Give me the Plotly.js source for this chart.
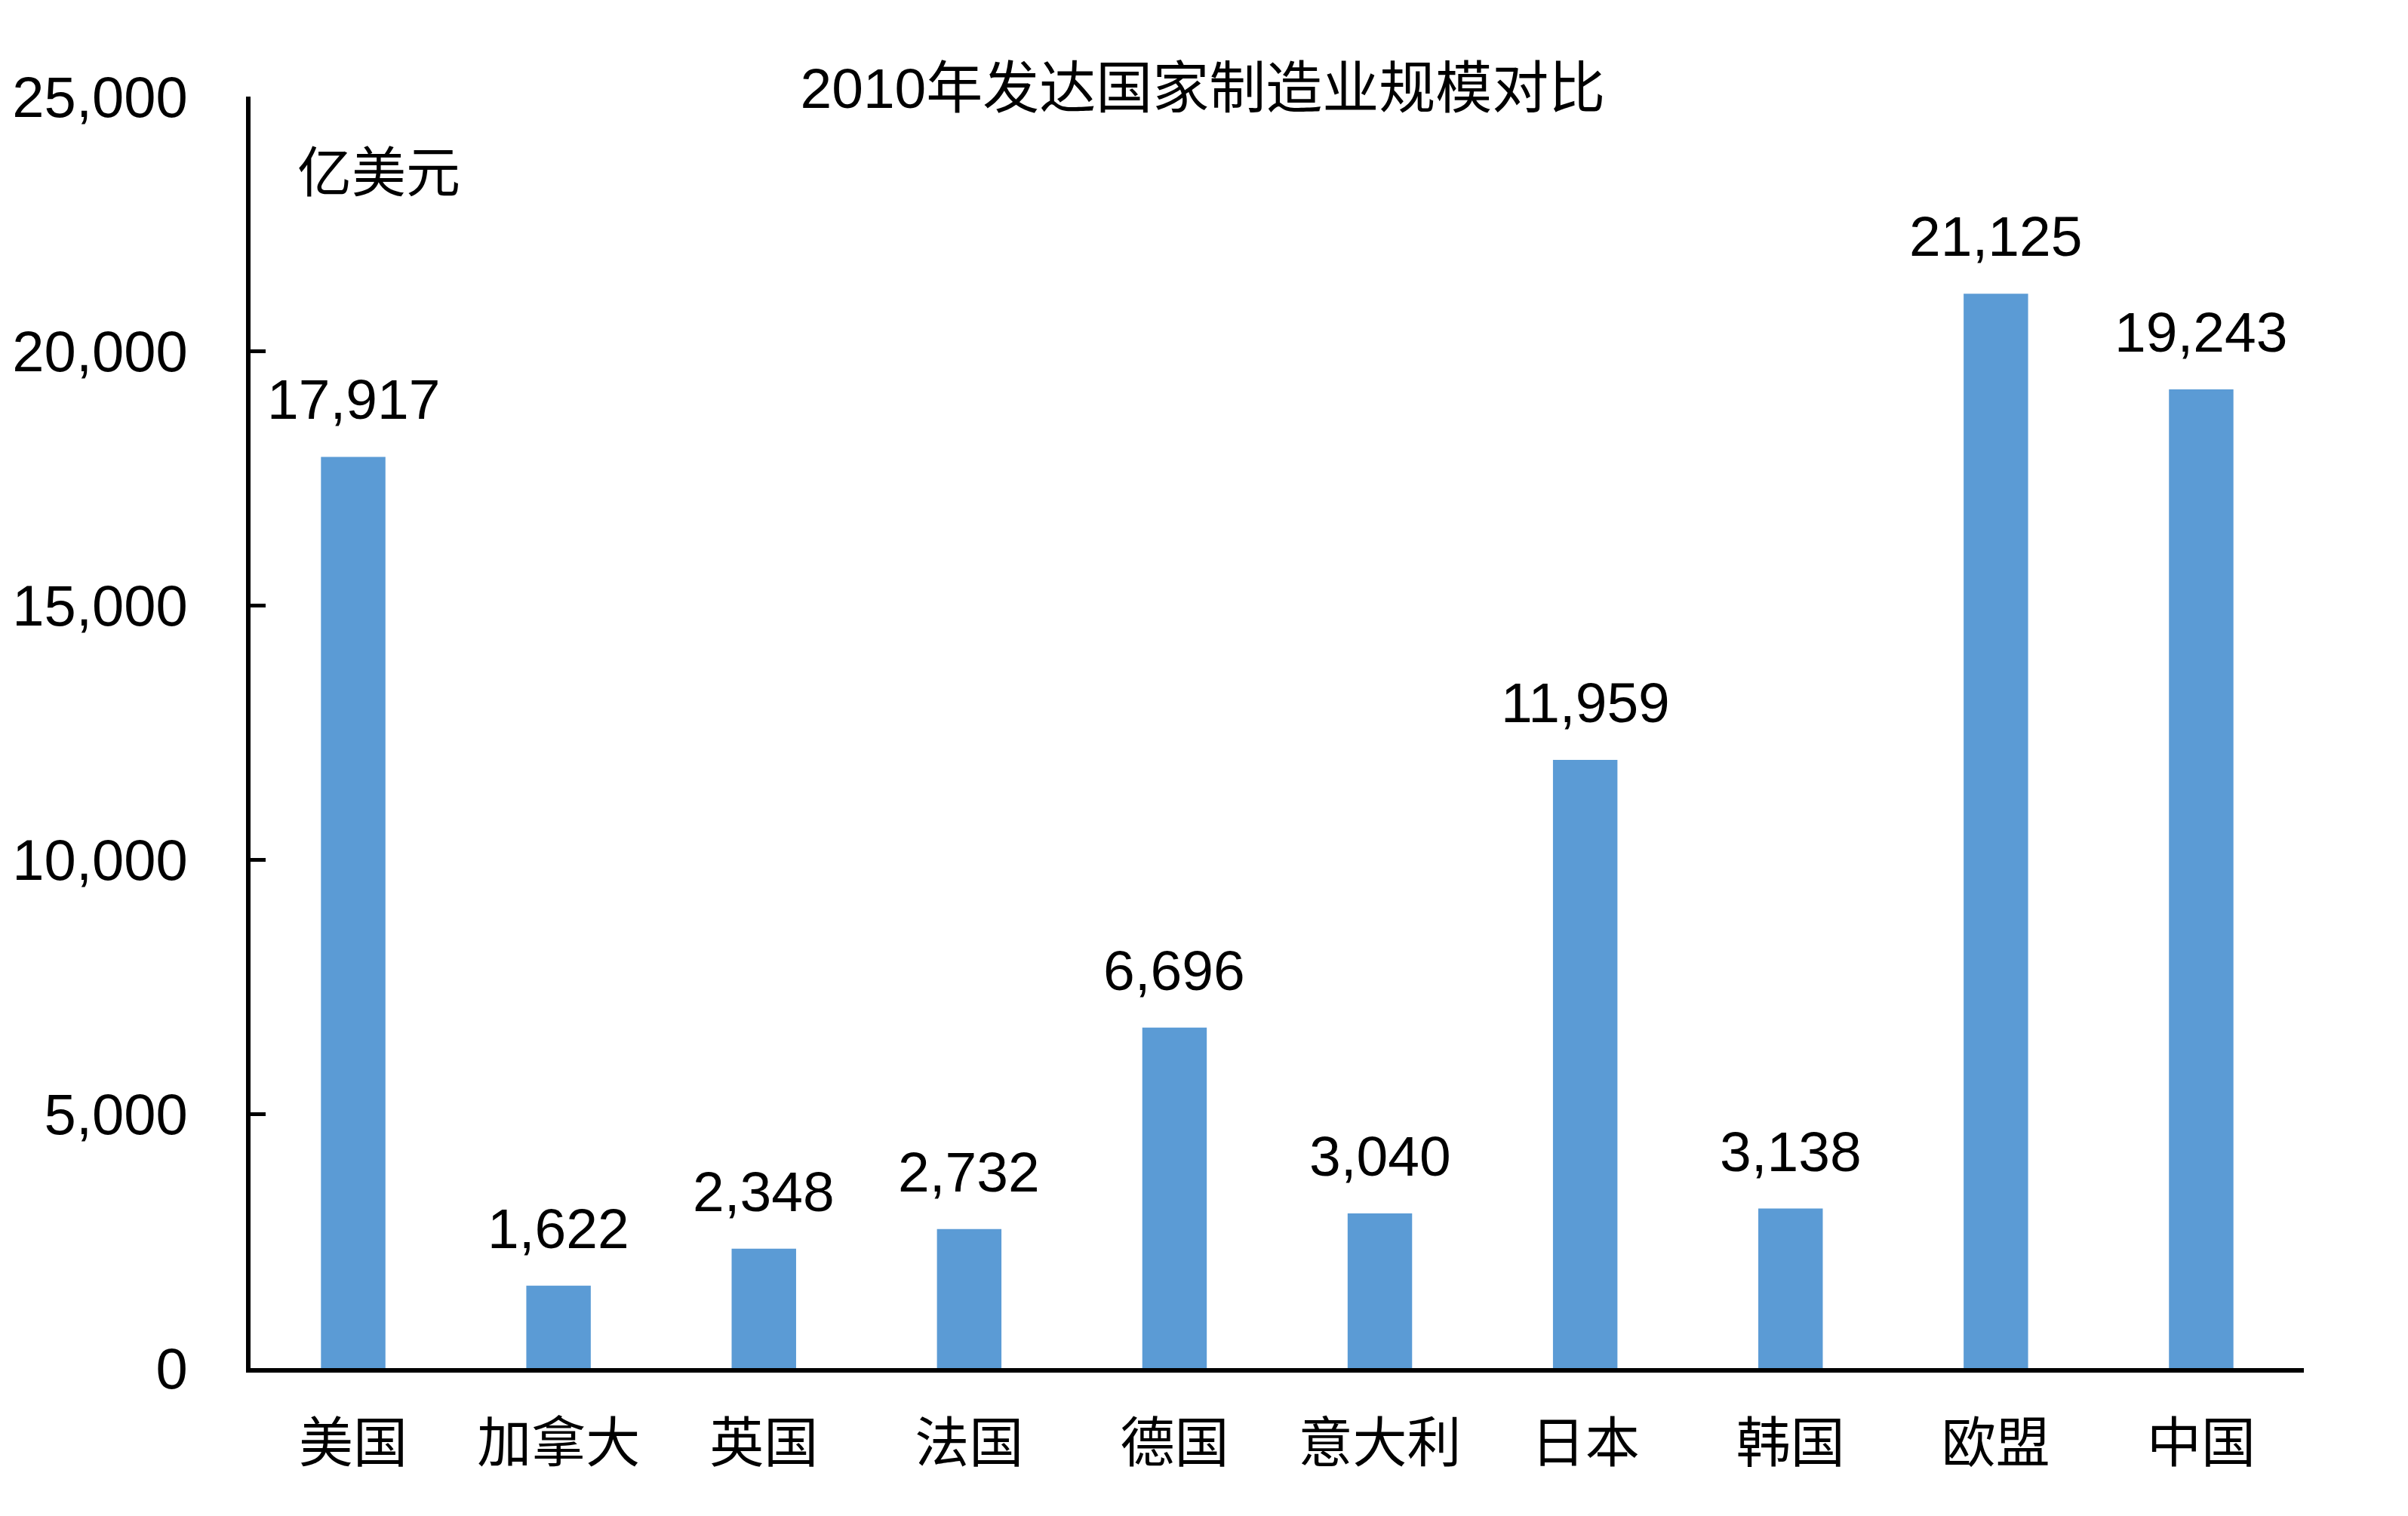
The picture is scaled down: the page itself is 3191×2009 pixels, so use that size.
<!DOCTYPE html>
<html>
<head>
<meta charset="utf-8">
<script src="https://cdn.plot.ly/plotly-3.0.1.min.js"></script>
<style>html,body{margin:0;padding:0;background:#fff;}#chart{width:3191px;height:2009px;}</style>
</head>
<body>
<div id="chart"></div>
<script>
const categories = ["美国", "加拿大", "英国", "法国", "德国", "意大利", "日本", "韩国", "欧盟", "中国"];
const values = [17917, 1622, 2348, 2732, 6696, 3040, 11959, 3138, 21125, 19243];
const yTickVals = [0, 5000, 10000, 15000, 20000, 25000];
const yTickText = ["0", "5,000", "10,000", "15,000", "20,000", "25,000"];
const titleText = "2010年发达国家制造业规模对比";
const unitText = "亿美元";

const FONT = "'Liberation Sans', Arial, 'Noto Sans CJK SC', sans-serif";
const fmt = v => v.toLocaleString('en-US');

const trace = {
  type: 'bar',
  x: categories,
  y: values,
  marker: {color: '#5B9BD5'},
  hoverinfo: 'x+y'
};

const annotations = categories.map((c, i) => ({
  x: c, y: values[i], xref: 'x', yref: 'y',
  text: fmt(values[i]), showarrow: false,
  yanchor: 'middle', yshift: 76,
  font: {family: FONT, size: 75, color: '#000'}
}));
annotations.push({
  xref: 'paper', yref: 'paper', x: 0.022, y: 0.940,
  xanchor: 'left', yanchor: 'middle',
  text: unitText, showarrow: false,
  font: {family: FONT, size: 72, color: '#000'}
});

const layout = {
  width: 3191, height: 2009,
  margin: {l: 332, r: 138, t: 128, b: 196},
  paper_bgcolor: '#fff', plot_bgcolor: '#fff',
  showlegend: false,
  bargap: 0.686,
  title: {
    text: titleText, xref: 'container', yref: 'container',
    x: 0.4995, y: 0.942, xanchor: 'center', yanchor: 'middle',
    font: {family: FONT, size: 75, color: '#000'}
  },
  xaxis: {
    type: 'category',
    showline: true, linecolor: '#000', linewidth: 6,
    ticks: '', showgrid: false, zeroline: false,
    tickfont: {family: FONT, size: 72, color: '#000'},
    ticklabelstandoff: 32
  },
  yaxis: {
    range: [0, 25000],
    tickvals: yTickVals, ticktext: yTickText,
    showline: true, linecolor: '#000', linewidth: 6,
    ticks: 'inside', ticklen: 20, tickwidth: 5, tickcolor: '#000',
    showgrid: false, zeroline: false,
    tickfont: {family: FONT, size: 76, color: '#000'},
    ticklabelstandoff: 62
  },
  annotations: annotations
};

Plotly.newPlot('chart', [trace], layout, {displayModeBar: false, staticPlot: true});
</script>
</body>
</html>
